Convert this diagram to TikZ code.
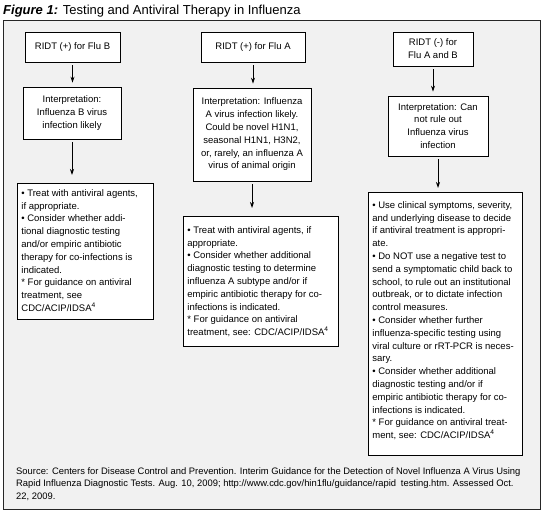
\documentclass[tikz,border=0pt]{standalone}
\usepackage{fontspec}
\setmainfont{Liberation Sans}
\usetikzlibrary{arrows.meta}
\definecolor{framebg}{RGB}{241,241,241}
\newcommand{\topbox}[4]{\begin{minipage}[c][#2][t]{#1}\raggedright\vspace*{#3}#4\end{minipage}}
\newcommand{\boxfont}{\fontsize{9.5}{12.8}\selectfont}
\newcommand{\guide}{{*}\ For guidance on antiviral}
\begin{document}
\begin{tikzpicture}[x=1pt,y=-1pt,
  cbox/.style={draw=black, line width=0.8pt, fill=white, inner sep=0pt, align=center, font=\boxfont},
  bbox/.style={draw=black, line width=0.8pt, fill=white, inner xsep=4pt, inner ysep=0pt, font=\boxfont, anchor=north west},
  arr/.style={draw=black, line width=0.8pt, -{Stealth[length=6pt,width=4pt]}, shorten <=3pt, shorten >=4pt}]
\useasboundingbox (0,0) rectangle (543,513);
\draw[fill=framebg, line width=1pt, draw=black!85] (3,21) rectangle (540,509);
\node[anchor=base west, inner sep=0pt, font=\fontsize{13}{15}\selectfont] (title) at (3,15) {\textbf{\textit{Figure 1:}} Testing and Antiviral Therapy in Influenza};

\node[cbox, minimum width=95pt, minimum height=30pt] (B1) at (72.5,47) {RIDT (+) for Flu B};
\node[cbox, minimum width=104pt, minimum height=30pt] (A1) at (253,47) {RIDT (+) for Flu A};
\node[cbox, minimum width=80pt, minimum height=34pt] (C1) at (433,49) {RIDT (-) for\\Flu A and B};

\node[cbox, minimum width=98pt, minimum height=52pt] (B2) at (72,113) {Interpretation:\\Influenza B virus\\infection likely};
\node[cbox, minimum width=118pt, minimum height=93pt] (A2) at (252,134.5) {Interpretation: Influenza\\A virus infection likely.\\Could be novel H1N1,\\seasonal H1N1, H3N2,\\or, rarely, an influenza A\\virus of animal origin};
\node[cbox, minimum width=100pt, minimum height=60pt] (C2) at (438,126) {Interpretation: Can\\not rule out\\Influenza virus\\infection};

\node[bbox] (B3) at (17,183) {\topbox{128pt}{136pt}{6pt}{• Treat with antiviral agents,\\if appropriate.\\• Consider whether addi-\\tional diagnostic testing\\and/or empiric antibiotic\\therapy for co-infections is\\indicated.\\\guide\\treatment, see\\CDC/ACIP/IDSA\textsuperscript{4}}};
\node[bbox] (A3) at (183,216) {\topbox{147pt}{130pt}{10pt}{• Treat with antiviral agents, if\\appropriate.\\• Consider whether additional\\diagnostic testing to determine\\influenza A subtype and/or if\\empiric antibiotic therapy for co-\\infections is indicated.\\\guide\\treatment, see: CDC/ACIP/IDSA\textsuperscript{4}}};
\node[bbox] (C3) at (368,192) {\topbox{146pt}{263pt}{9pt}{• Use clinical symptoms, severity,\\and underlying disease to decide\\if antiviral treatment is appropri-\\ate.\\• Do NOT use a negative test to\\send a symptomatic child back to\\school, to rule out an institutional\\outbreak, or to dictate infection\\control measures.\\• Consider whether further\\influenza-specific testing using\\viral culture or rRT-PCR is neces-\\sary.\\• Consider whether additional\\diagnostic testing and/or if\\empiric antibiotic therapy for co-\\infections is indicated.\\\guide{} treat-\\ment, see: CDC/ACIP/IDSA\textsuperscript{4}}};

\draw[arr] (B1.south) -- (B1.south |- B2.north);
\draw[arr] (A1.south) -- (A1.south |- A2.north);
\draw[arr] (C1.south) -- (C1.south |- C2.north);
\draw[arr, shorten >=8pt] (B2.south) -- (B2.south |- B3.north);
\draw[arr, shorten >=8pt] (A2.south) -- (A2.south |- A3.north);
\draw[arr] (C2.south) -- (C2.south |- C3.north);

\node[anchor=north west, inner sep=0pt, align=left, font=\fontsize{9.4}{12.8}\selectfont] (src) at (16,467) {Source: Centers for Disease Control and Prevention. Interim Guidance for the Detection of Novel Influenza A Virus Using\\Rapid Influenza Diagnostic Tests. Aug. 10, 2009; http://www.cdc.gov/hin1flu/guidance/rapid\enspace testing.htm. Assessed Oct.\\22, 2009.};
\end{tikzpicture}
\end{document}
